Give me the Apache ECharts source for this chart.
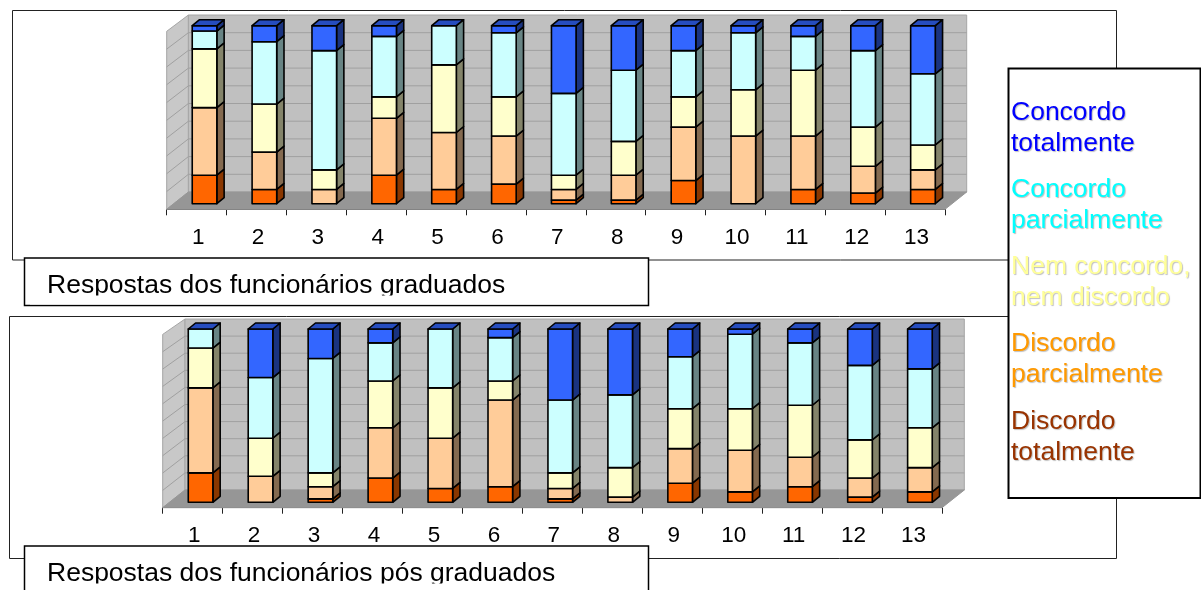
<!DOCTYPE html>
<html>
<head>
<meta charset="utf-8">
<style>html,body{margin:0;padding:0;background:#fff}#c{width:1201px;height:590px}</style>
<script src="https://cdn.jsdelivr.net/npm/echarts@6/dist/echarts.min.js"></script>
</head>
<body>
<div id="c"></div>
<script>
// Survey answers per question (percent of respondents), lowest agreement first.
const questions = ['1','2','3','4','5','6','7','8','9','10','11','12','13'];
const answerNames = ['Discordo totalmente','Discordo parcialmente','Nem concordo, nem discordo','Concordo parcialmente','Concordo totalmente'];

const gradDiscordoTotal   = [16, 8, 0,16, 8,11, 2, 2,13, 0, 8, 6, 8];
const gradDiscordoParcial = [38,21, 8,32,32,27, 6,14,30,38,30,15,11];
const gradNem             = [33,27,11,12,38,22, 8,19,17,26,37,22,14];
const gradConcordoParcial = [10,35,67,34,22,36,46,40,26,32,19,43,40];
const gradConcordoTotal   = [ 3, 9,14, 6, 0, 4,38,25,14, 4, 6,14,27];

const posDiscordoTotal    = [17, 0, 2,14, 8, 9, 2, 0,11, 6, 9, 3, 6];
const posDiscordoParcial  = [49,15, 7,29,29,50, 6, 3,20,24,17,11,14];
const posNem              = [23,22, 8,27,29,11, 9,17,23,24,30,22,23];
const posConcordoParcial  = [11,35,66,22,34,25,42,42,30,43,36,43,34];
const posConcordoTotal    = [ 0,28,17, 8, 0, 5,41,38,16, 3, 8,21,23];

const barColors  = ['#FF6600','#FFCC99','#FFFFCC','#CCFFFF','#3366FF'];
const sideColors = ['#8A3700','#846A50','#84846A','#688484','#1A3380'];
const topColor   = '#264DBF';
const gridTicks  = [0,10,20,30,40,50,60,70,80,90,100];

const legendLines = [
  ['Concordo','totalmente','#0000FF'],
  ['Concordo','parcialmente','#00FFFF'],
  ['Nem concordo,','nem discordo','#FFFF99'],
  ['Discordo','parcialmente','#FF9900'],
  ['Discordo','totalmente','#993300']
];

// Plot layouts: front plane rectangle plus the receding depth of the box.
const panels = [
  {left:166.7, right:945, top:31.3, bottom:209.3, dx:21.7, floorBack:192, wallTop:15,
   barDx:7.9, barDy:5.6, sets:[gradDiscordoTotal,gradDiscordoParcial,gradNem,gradConcordoParcial,gradConcordoTotal]},
  {left:162.7, right:942, top:334.4, bottom:507.7, dx:22.3, floorBack:490, wallTop:319,
   barDx:7.9, barDy:5.4, sets:[posDiscordoTotal,posDiscordoParcial,posNem,posConcordoParcial,posConcordoTotal]}
];

const barWidth = 24.6, barDepthX = 7.3, barDepthY = 6;
const chart = echarts.init(document.getElementById('c'), null, {renderer:'canvas'});

function wallsItem(panel) {
  return function (params, api) {
    const cs = params.coordSys;
    const x0 = cs.x, x1 = cs.x + cs.width, yb = cs.y + cs.height, yt = cs.y;
    const bx0 = x0 + panel.dx, bx1 = x1 + panel.dx;
    const ratio = (panel.floorBack - panel.wallTop) / (yb - yt);
    const kids = [
      {type:'polygon', shape:{points:[[x0,yb],[bx0,panel.floorBack],[bx0,panel.wallTop],[x0,yt]]},
       style:{fill:'#C8C8C8', stroke:'#A6A6A6', lineWidth:1}},
      {type:'rect', shape:{x:bx0, y:panel.wallTop, width:bx1-bx0, height:panel.floorBack-panel.wallTop},
       style:{fill:'#C0C0C0', stroke:'#A6A6A6', lineWidth:1}}
    ];
    gridTicks.slice(1, -1).forEach(function (v) {
      const fy = api.coord([0, v])[1];
      const by = panel.floorBack + (fy - yb) * ratio;
      kids.push({type:'polyline', shape:{points:[[x0,fy],[bx0,by],[bx1,by]]},
        style:{fill:'none', stroke:'#A0A0A0', lineWidth:1}});
    });
    kids.push({type:'polygon', shape:{points:[[x0,yb],[x1,yb],[bx1,panel.floorBack],[bx0,panel.floorBack]]},
      style:{fill:'#969696', stroke:'#969696', lineWidth:1}});
    return {type:'group', children:kids};
  };
}

function segmentItem(panel, level) {
  return function (params, api) {
    const cat = api.value(0), from = api.value(1), to = api.value(2), isTop = api.value(3);
    if (to <= from) return null;
    const base = api.coord([cat, from]), head = api.coord([cat, to]);
    const xl = base[0] + panel.barDx - barWidth / 2, xr = xl + barWidth;
    const yb = base[1] - panel.barDy, yt = head[1] - panel.barDy;
    const line = {stroke:'#000', lineWidth:1.6, lineJoin:'round'};
    const kids = [
      {type:'polygon', shape:{points:[[xr,yb],[xr+barDepthX,yb-barDepthY],[xr+barDepthX,yt-barDepthY],[xr,yt]]},
       style:Object.assign({fill:sideColors[level]}, line)},
      {type:'rect', shape:{x:xl, y:yt, width:barWidth, height:yb-yt},
       style:Object.assign({fill:barColors[level]}, line)}
    ];
    if (isTop) {
      kids.push({type:'polygon', shape:{points:[[xl,yt],[xr,yt],[xr+barDepthX,yt-barDepthY],[xl+barDepthX,yt-barDepthY]]},
        style:Object.assign({fill:topColor}, line)});
    }
    return {type:'group', children:kids};
  };
}

const grids = [], xAxes = [], yAxes = [], series = [];
panels.forEach(function (panel, i) {
  grids.push({left:panel.left, top:panel.top, width:panel.right-panel.left, height:panel.bottom-panel.top});
  xAxes.push({type:'category', gridIndex:i, data:questions,
    axisLine:{show:true, lineStyle:{color:'#222', width:1}},
    axisTick:{show:true, length:6, alignWithLabel:false, lineStyle:{color:'#222', width:1}},
    axisLabel:{interval:0, margin:17, padding:[0,0,0,3], fontSize:22.5, color:'#000', fontFamily:'Liberation Sans'},
    splitLine:{show:false}});
  yAxes.push({type:'value', gridIndex:i, min:0, max:100, interval:10, show:false});
  series.push({type:'custom', xAxisIndex:i, yAxisIndex:i, z:1, silent:true, clip:false,
    renderItem:wallsItem(panel), data:[[0,0]]});
  const running = questions.map(function () { return 0; });
  const totals = questions.map(function (_, q) {
    return panel.sets.reduce(function (s, a) { return s + a[q]; }, 0);
  });
  panel.sets.forEach(function (values, level) {
    const rows = values.map(function (v, q) {
      const from = running[q];
      running[q] += v;
      return [q, from, running[q], running[q] >= totals[q] && v > 0 ? 1 : 0];
    });
    series.push({type:'custom', name:answerNames[level], xAxisIndex:i, yAxisIndex:i, z:2+level, silent:true, clip:false,
      renderItem:segmentItem(panel, level), encode:{x:0, y:[1,2]}, data:rows});
  });
});

// Frames, caption boxes and the side key.
const sans = 'Liberation Sans';
const graphics = [
  {type:'rect', z:-1, silent:true, shape:{x:12.5,y:10.5,width:1104,height:249.5}, style:{fill:'none',stroke:'#222',lineWidth:1}},
  {type:'rect', z:-1, silent:true, shape:{x:9.5,y:316.5,width:1107,height:242}, style:{fill:'none',stroke:'#222',lineWidth:1}},
  {type:'rect', z:20, silent:true, shape:{x:24.5,y:258,width:624,height:47.5}, style:{fill:'#fff',stroke:'#000',lineWidth:1.5}},
  {type:'rect', z:20, silent:true, shape:{x:24.5,y:546,width:624,height:60}, style:{fill:'#fff',stroke:'#000',lineWidth:1.5}},
  {type:'text', z:21, silent:true, style:{x:47,y:285.5,text:'Respostas dos funcionários graduados',fill:'#000',font:'26.5px '+sans,textVerticalAlign:'middle'}},
  {type:'text', z:21, silent:true, style:{x:47,y:573.5,text:'Respostas dos funcionários pós graduados',fill:'#000',font:'26.5px '+sans,textVerticalAlign:'middle'}},
  // The caption boxes cut off the descenders of their text.
  {type:'rect', z:22, silent:true, shape:{x:30,y:295.5,width:600,height:9}, style:{fill:'#fff'}},
  {type:'rect', z:22, silent:true, shape:{x:30,y:583.5,width:600,height:7}, style:{fill:'#fff'}},
  {type:'rect', z:20, silent:true, shape:{x:1008.5,y:68.5,width:192,height:429.5}, style:{fill:'#fff',stroke:'#000',lineWidth:2}}
];
const legendTops = [113,190,267,344,422];
legendLines.forEach(function (item, n) {
  [0,1].forEach(function (k) {
    graphics.push({type:'text', z:21, silent:true, style:{
      x:1011, y:legendTops[n]+k*31, text:item[k], fill:item[2], font:'26.5px '+sans, textVerticalAlign:'middle',
      textShadowColor:'rgba(0,0,0,0.25)', textShadowOffsetX:1, textShadowOffsetY:1, textShadowBlur:1}});
  });
});

chart.setOption({
  animation:false, backgroundColor:'#fff',
  grid:grids, xAxis:xAxes, yAxis:yAxes, series:series, graphic:graphics
});
</script>
</body>
</html>
